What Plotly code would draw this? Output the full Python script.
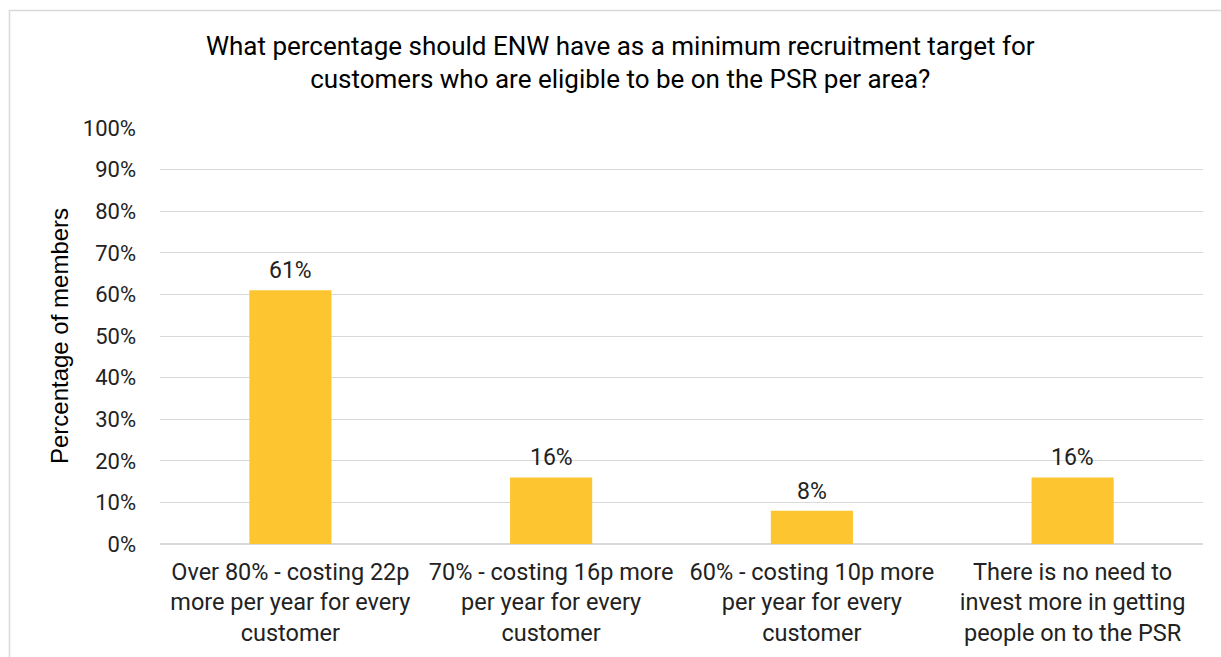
import plotly.graph_objects as go

# Survey responses: preferred minimum PSR recruitment target
categories = [
    "Over 80% - costing 22p<br>more per year for every<br>customer",
    "70% - costing 16p more<br>per year for every<br>customer",
    "60% - costing 10p more<br>per year for every<br>customer",
    "There is no need to<br>invest more in getting<br>people on to the PSR",
]
share_pct = [61, 16, 8, 16]
y_ticks = [0, 10, 20, 30, 40, 50, 60, 70, 80, 90, 100]
y_tick_labels = [f"{v}%" for v in y_ticks]

BAR = "#FDC530"
GRID = "#D9D9D9"
FONT = "Roboto"

fig = go.Figure(
    go.Bar(
        x=categories,
        y=share_pct,
        marker=dict(color=BAR, line=dict(width=0)),
        hoverinfo="skip",
    )
)

# value labels above each bar
for cat, v in zip(categories, share_pct):
    fig.add_annotation(
        x=cat, y=v, text=f"{v}%", showarrow=False,
        yanchor="bottom", yshift=4,
        font=dict(family=FONT, size=23, color="#222222"),
    )

# outer chart frame
fig.add_shape(
    type="rect", xref="paper", yref="paper",
    x0=-0.1443, x1=1.2, y0=-0.6, y1=1.2825,
    line=dict(color=GRID, width=1.5), fillcolor="rgba(0,0,0,0)", layer="below",
)

fig.update_layout(
    width=1221, height=657,
    margin=dict(l=160, r=18, t=128, b=113, autoexpand=False),
    paper_bgcolor="white", plot_bgcolor="white",
    bargap=0.685,
    showlegend=False,
    title=dict(
        text="What percentage should ENW have as a minimum recruitment target for<br>customers who are eligible to be on the PSR per area?",
        x=0.508, xanchor="center", y=0.917, yanchor="middle",
        font=dict(family=FONT, size=26, color="#000000"),
    ),
    font=dict(family=FONT, size=23, color="#222222"),
)

fig.update_xaxes(
    showgrid=False, showline=False, zeroline=False, ticks="",
    ticklabelstandoff=11, automargin=False,
    tickfont=dict(family=FONT, size=23.5, color="#222222"),
    fixedrange=True,
)
fig.update_yaxes(
    range=[0, 100], tickvals=y_ticks, ticktext=y_tick_labels,
    showgrid=True, gridcolor=GRID, gridwidth=1.2,
    zeroline=True, zerolinecolor=GRID, zerolinewidth=1.5,
    showline=False, ticks="", ticklabelstandoff=23, automargin=False,
    tickfont=dict(family=FONT, size=22, color="#222222"),
    title=dict(text="Percentage of members", standoff=7,
               font=dict(family="Liberation Sans", size=24, color="#000000")),
    fixedrange=True,
)

fig.write_html("out.html", config={"displayModeBar": False})
